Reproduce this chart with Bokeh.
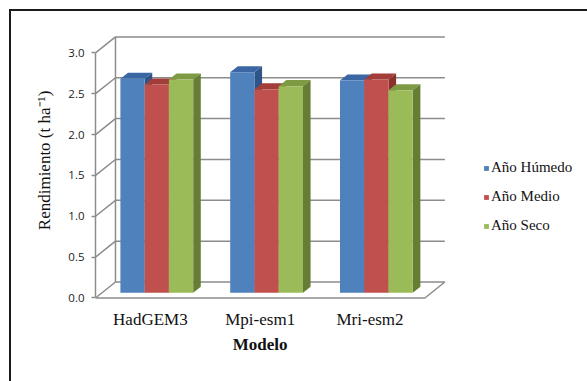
from bokeh.plotting import figure
from bokeh.models import (LinearAxis, FixedTicker, PrintfTickFormatter, Range1d,
                          Legend, LegendItem, InlineStyleSheet)
from bokeh.embed import file_html
from bokeh.resources import INLINE

# ---- data -------------------------------------------------------------
models = ["HadGEM3", "Mpi-esm1", "Mri-esm2"]
series = ["Año Húmedo", "Año Medio", "Año Seco"]
humedo = [2.62, 2.70, 2.60]
medio = [2.55, 2.49, 2.61]
seco = [2.61, 2.53, 2.48]
y_ticks = [0.0, 0.5, 1.0, 1.5, 2.0, 2.5, 3.0]
y_title = "Rendimiento (t ha\u207b\u00b9)"
x_title = "Modelo"

values = [humedo, medio, seco]
front_colors = ["#4F81BD", "#C0504D", "#9BBB59"]
top_colors = ["#3A66A3", "#A23D3A", "#7E9B43"]
side_colors = ["#2F5588", "#8C302E", "#657D34"]

# ---- oblique "3-D" geometry (data units) --------------------------------
DX, DY = 0.182, 0.195      # depth of the plot box
BAR_W = 0.221              # width of one column
F0, F1 = 0.32, 0.70        # front / back face of the columns, share of depth
GRID = "#8C8C8C"
SERIF = "Liberation Serif"
TEXT = "#111111"

p = figure(width=587, height=381,
           x_range=Range1d(0, 4.481), y_range=Range1d(-0.031, 3.249),
           x_axis_type=None, y_axis_type=None,
           toolbar_location=None, output_backend="svg",
           min_border_left=95, min_border_right=0,
           min_border_top=32, min_border_bottom=81)
p.outline_line_color = None
p.background_fill_color = "white"
p.border_fill_color = "white"

# back wall gridlines, left wall diagonals, wall edge and floor
n = len(models)
xs, ys = [], []
for v in y_ticks:
    xs.append([0, DX, n + DX])
    ys.append([v, v + DY, v + DY])
xs.append([DX, DX])
ys.append([DY, y_ticks[-1] + DY])
xs.append([0, n, n + DX])
ys.append([0, 0, DY])
p.multi_line(xs, ys, line_color=GRID, line_width=1.5)

# columns: front face, top face, side face
sx0, sy0 = F0 * DX, F0 * DY
sx1, sy1 = F1 * DX, F1 * DY
legend_items = []
for k in range(n):
    for i, vals in enumerate(values):
        v = vals[k]
        xc = k + 0.5 + (i - 1) * BAR_W
        xl, xr = xc - BAR_W / 2, xc + BAR_W / 2
        p.patch([xl + sx0, xr + sx0, xr + sx1, xl + sx1],
                [v + sy0, v + sy0, v + sy1, v + sy1],
                fill_color=top_colors[i], line_color=None)
        p.patch([xr + sx0, xr + sx1, xr + sx1, xr + sx0],
                [sy0, sy1, v + sy1, v + sy0],
                fill_color=side_colors[i], line_color=None)
        r = p.vbar(x=[xc + sx0], width=BAR_W, bottom=sy0, top=v + sy0,
                   fill_color=front_colors[i], line_color=None)
        if k == 0:
            legend_items.append(LegendItem(label=series[i], renderers=[r]))


def bare_axis(ticks, labels, **kw):
    ax = LinearAxis(ticker=FixedTicker(ticks=ticks),
                    major_label_overrides=dict(zip(ticks, labels)), **kw)
    ax.axis_line_color = None
    ax.major_tick_line_color = None
    ax.minor_tick_line_color = None
    ax.major_label_text_font = SERIF
    ax.major_label_text_font_size = "17px"
    ax.major_label_text_color = TEXT
    return ax


# value axis (front edge of the left wall)
yaxis = LinearAxis(ticker=FixedTicker(ticks=y_ticks),
                   formatter=PrintfTickFormatter(format="%.1f"),
                   bounds=(0, 3))
yaxis.axis_line_color = GRID
yaxis.axis_line_width = 1.5
yaxis.major_tick_line_color = GRID
yaxis.major_tick_line_width = 1.5
yaxis.major_tick_out = 4
yaxis.major_tick_in = 0
yaxis.minor_tick_line_color = None
yaxis.major_label_text_font = "Open Sans"
yaxis.major_label_text_font_size = "11.5px"
yaxis.major_label_text_color = "#222222"
yaxis.major_label_standoff = 7
p.add_layout(yaxis, "left")

# value axis title, centred on its own tick
ytitle = bare_axis([1.683], [y_title])
ytitle.major_label_orientation = "vertical"
ytitle.major_label_standoff = 5
p.add_layout(ytitle, "left")

# model axis (front edge of the floor)
xaxis = bare_axis([k + 0.5 for k in range(n)], models)
xaxis.major_label_standoff = 3
p.add_layout(xaxis, "below")

# model axis title, centred under the floor
xtitle = bare_axis([n / 2], [x_title])
xtitle.major_label_text_font_style = "bold"
xtitle.major_label_standoff = -3
p.add_layout(xtitle, "below")

legend = Legend(items=legend_items, location=(388, 66))
legend.glyph_width = 6
legend.glyph_height = 6
legend.label_standoff = 2
legend.label_text_font = SERIF
legend.label_text_font_size = "15px"
legend.label_text_color = TEXT
legend.spacing = 12
legend.padding = 0
legend.margin = 0
legend.border_line_color = None
legend.background_fill_alpha = 0
p.add_layout(legend)

# chart area border (top and left edges inside the window)
p.stylesheets = [InlineStyleSheet(css=(
    ":host { position: relative; }"
    ":host::after { content: ''; position: absolute; left: 9px; top: 9px;"
    " right: 0; bottom: 0; border-left: 2px solid #1A1A1A;"
    " border-top: 2px solid #1A1A1A; pointer-events: none; }"))]

open("out.html", "w").write(file_html(p, INLINE))
